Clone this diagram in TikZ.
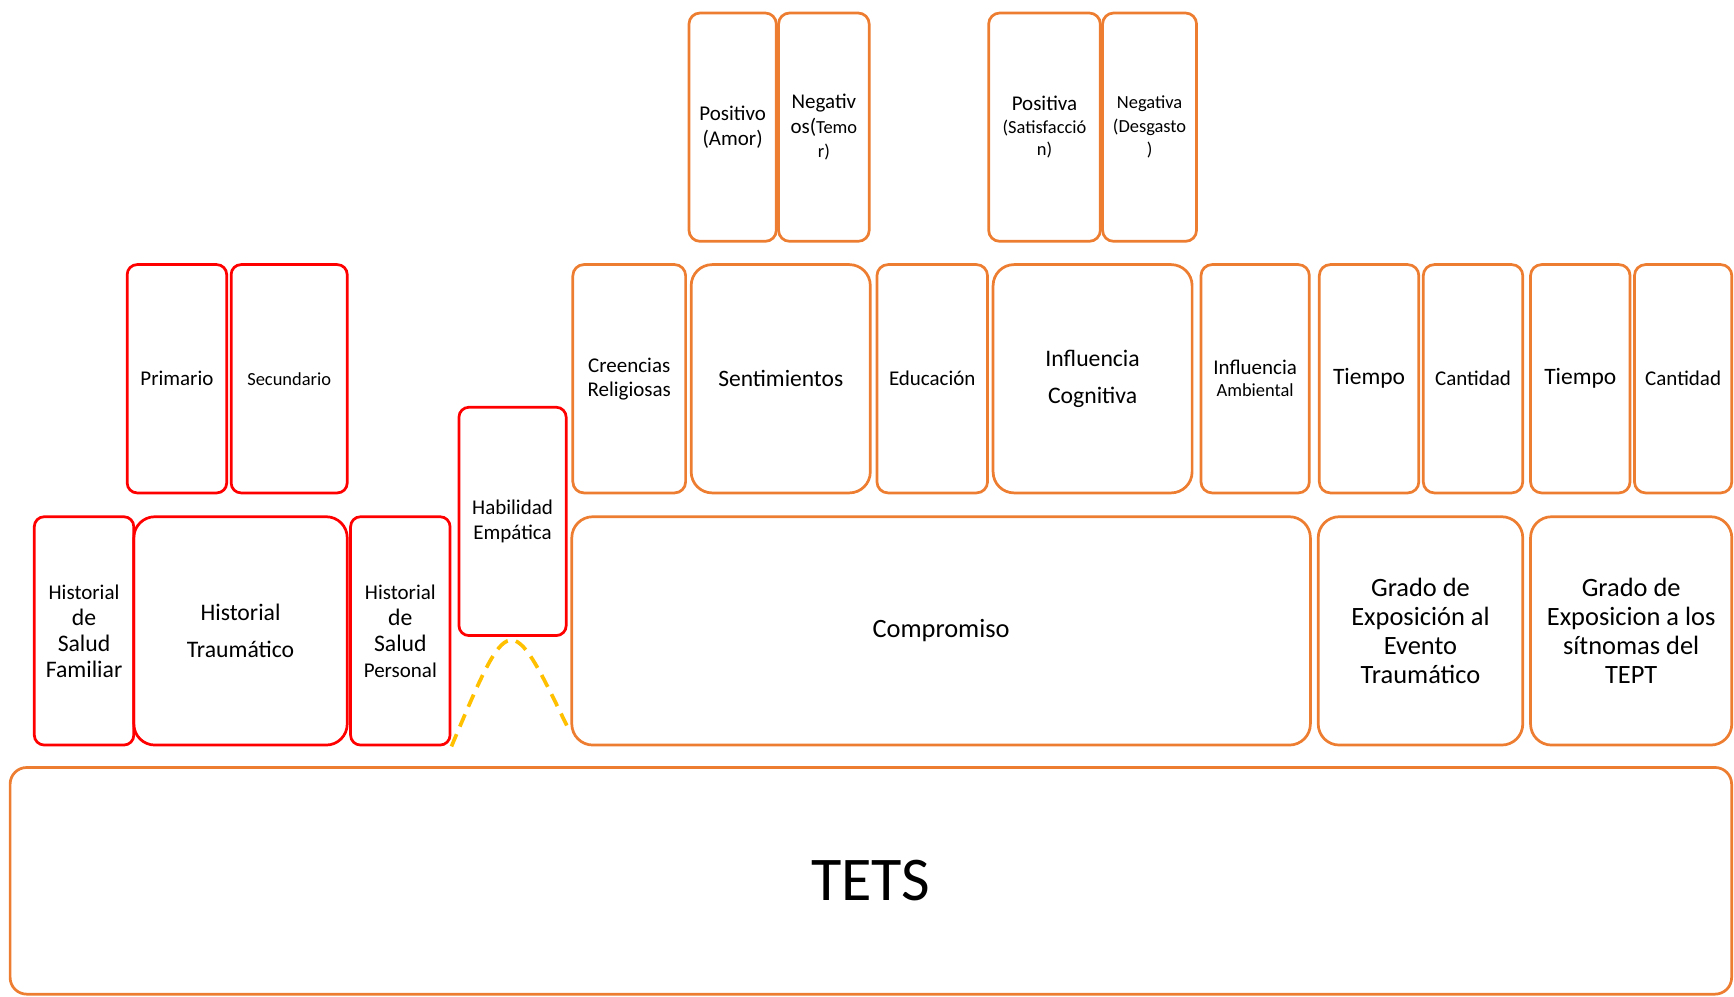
\documentclass[tikz,border=0pt]{standalone}
\usepackage{fontspec}
\setmainfont{Carlito}
\usepackage{xcolor}
\usepackage{tikz}
\usetikzlibrary{shapes,calc,positioning}
\definecolor{boxred}{HTML}{FF0000}
\definecolor{boxorange}{HTML}{ED7D31}
\definecolor{boxyellow}{HTML}{FFC000}
\newcommand{\fntS}{\fontsize{9.5pt}{12pt}\selectfont}
\newcommand{\fntN}{\fontsize{10.8pt}{12.5pt}\selectfont}
\newcommand{\fntA}{\fontsize{10.8pt}{11.4pt}\selectfont}
\newcommand{\fntM}{\fontsize{12.1pt}{14pt}\selectfont}
\newcommand{\fntW}{\fontsize{12.2pt}{18.8pt}\selectfont}
\newcommand{\fntH}{\fontsize{12.2pt}{13.4pt}\selectfont}
\newcommand{\fntG}{\fontsize{13.6pt}{15pt}\selectfont}
\newcommand{\fntT}{\fontsize{32pt}{36pt}\selectfont}
\tikzset{
  redbox/.style={rectangle, draw=boxred, line width=1.4pt, rounded corners=0.18cm, minimum height=4.13cm, inner sep=0pt, align=center, font=\fntN},
  orbox/.style={rectangle, draw=boxorange, line width=1.4pt, rounded corners=0.2cm, minimum height=4.13cm, inner sep=0pt, align=center, font=\fntN},
  widebox/.style={rounded corners=0.38cm},
  dashcurve/.style={draw=boxyellow, line width=1.9pt, dash pattern=on 0.24cm off 0.15cm}
}

\begin{document}
\begin{tikzpicture}[x=0.02cm, y=-0.02cm]
	\useasboundingbox (0,0) rectangle (1568,901);
	% fila superior
	\node[orbox, minimum width=1.58cm] (pos) at (662.5,115) {Positivo\\(Amor)};
	\node[orbox, minimum width=1.64cm] (neg) at (745,115) {Negativ\\os({\fntS Temo}\\{\fntS r)}};
	\node[orbox, minimum width=2.02cm, font=\fntA] (posa) at (944.5,115) {Positiva\\{\fntS (Satisfacció}\\{\fntS n)}};
	\node[orbox, minimum width=1.70cm, font=\fntS] (nega) at (1039.5,115) {Negativa\\(Desgasto\\)};
	% segunda fila
	\node[redbox, minimum width=1.80cm] (prim) at (160,342.5) {Primario};
	\node[redbox, minimum width=2.10cm, font=\fntS] (secu) at (261.5,342.5) {Secundario};
	\node[orbox, minimum width=2.04cm] (creen) at (569,342.5) {Creencias\\Religiosas};
	\node[orbox, widebox, minimum width=3.24cm, font=\fntM] (senti) at (706,342.5) {Sentimientos};
	\node[orbox, minimum width=2.00cm] (educ) at (843,342.5) {Educación};
	\node[orbox, widebox, minimum width=3.60cm, font=\fntW] (infcog) at (988,342.5) {Influencia\\Cognitiva};
	\node[orbox, minimum width=1.96cm, font=\fntA] (infamb) at (1135,342.5) {Influencia\\{\fntS Ambiental}};
	\node[orbox, minimum width=1.80cm, font=\fntM] (tiem1) at (1238,342.5) {Tiempo};
	\node[orbox, minimum width=1.80cm] (cant1) at (1332,342.5) {Cantidad};
	\node[orbox, minimum width=1.80cm, font=\fntM] (tiem2) at (1429,342.5) {Tiempo};
	\node[orbox, minimum width=1.76cm] (cant2) at (1522,342.5) {Cantidad};
	\node[redbox, minimum width=1.94cm] (hab) at (463.5,471.5) {Habilidad\\Empática};
	% tercera fila
	\node[redbox, minimum width=1.80cm, font=\fntH] (famil) at (76,570.5) {{\fntN Historial}\\de\\Salud\\Familiar};
	\node[redbox, widebox, minimum width=3.86cm, font=\fntW] (traum) at (217.5,570.5) {Historial\\Traumático};
	\node[redbox, minimum width=1.80cm, font=\fntH] (perso) at (362,570.5) {{\fntN Historial}\\de\\Salud\\{\fntN Personal}};
	\node[orbox, widebox, minimum width=13.36cm, font=\fntG] (compr) at (851,570.5) {Compromiso};
	\node[orbox, widebox, minimum width=3.70cm, font=\fntG] (grado1) at (1284.5,570.5) {Grado de\\Exposición al\\Evento\\Traumático};
	\node[orbox, widebox, minimum width=3.64cm, font=\fntG] (grado2) at (1475,570.5) {Grado de\\Exposicion a los\\sítnomas del\\TEPT};
	% base
	\node[orbox, rounded corners=0.3cm, minimum width=31.14cm, minimum height=4.10cm, font=\fntT] (tets) at (787.5,796.5) {TETS};
	\coordinate (cend) at (513,657);
	\draw[dashcurve] (perso.south east) .. controls (461,550) .. (cend);
\end{tikzpicture}
\end{document}
